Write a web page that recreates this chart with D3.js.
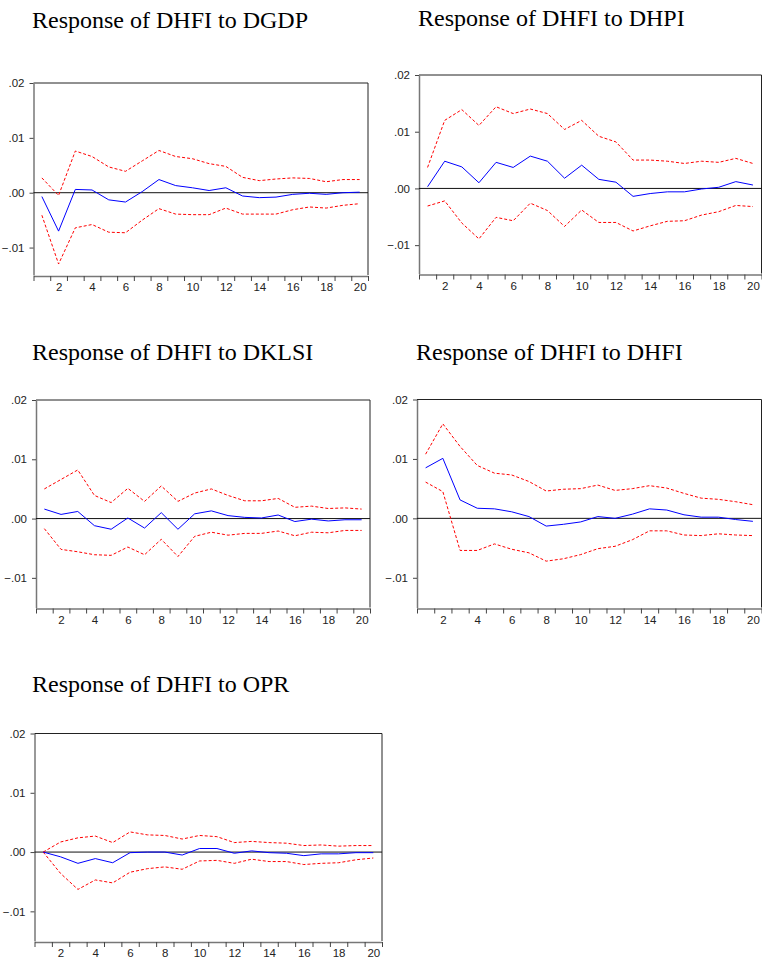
<!DOCTYPE html>
<html>
<head>
<meta charset="utf-8">
<script src="https://cdn.jsdelivr.net/npm/d3@7"></script>
<style>
	body { margin: 0; background: #fff; }
	svg { display: block; }
	.title { font-family: "Liberation Serif", "Times New Roman", serif; font-size: 24px; fill: #000; }
	.tick text { font-family: "Liberation Sans", Arial, sans-serif; font-size: 11.5px; fill: #222; }
</style>
</head>
<body>
<svg id="chart" width="762" height="962"></svg>
<script>
// periods on the horizontal axis
let periods = [1, 2, 3, 4, 5, 6, 7, 8, 9, 10, 11, 12, 13, 14, 15, 16, 17, 18, 19, 20];
let y_ticks = [-0.01, 0, 0.01, 0.02];
let x_labels = [2, 4, 6, 8, 10, 12, 14, 16, 18, 20];

// response of DHFI to DGDP
let resp_dgdp = [-0.0007, -0.0070, 0.0006, 0.0005, -0.0013, -0.0017, 0.0002, 0.0024, 0.0013, 0.0009, 0.0004, 0.0009, -0.0006, -0.0009, -0.0008, -0.0003, -0.0001, -0.0003, 0.0000, 0.0001];
let up_dgdp = [0.0027, -0.0005, 0.0076, 0.0066, 0.0047, 0.0039, 0.0058, 0.0077, 0.0066, 0.0062, 0.0053, 0.0048, 0.0028, 0.0022, 0.0025, 0.0027, 0.0026, 0.0020, 0.0024, 0.0024];
let lo_dgdp = [-0.0041, -0.0130, -0.0064, -0.0058, -0.0072, -0.0073, -0.0050, -0.0029, -0.0039, -0.0040, -0.0040, -0.0028, -0.0039, -0.0039, -0.0039, -0.0031, -0.0026, -0.0028, -0.0023, -0.0020];

// response of DHFI to DHPI
let resp_dhpi = [0.0003, 0.0048, 0.0038, 0.0010, 0.0046, 0.0037, 0.0057, 0.0048, 0.0018, 0.0041, 0.0016, 0.0011, -0.0014, -0.0009, -0.0006, -0.0006, -0.0001, 0.0002, 0.0012, 0.0006];
let up_dhpi = [0.0037, 0.0120, 0.0139, 0.0111, 0.0144, 0.0132, 0.0140, 0.0132, 0.0104, 0.0120, 0.0092, 0.0082, 0.0050, 0.0050, 0.0048, 0.0044, 0.0048, 0.0046, 0.0053, 0.0044];
let lo_dhpi = [-0.0031, -0.0022, -0.0061, -0.0089, -0.0051, -0.0057, -0.0026, -0.0039, -0.0067, -0.0038, -0.0060, -0.0060, -0.0075, -0.0066, -0.0058, -0.0057, -0.0047, -0.0041, -0.0030, -0.0032];

// response of DHFI to DKLSI
let resp_dklsi = [0.0016, 0.0007, 0.0012, -0.0012, -0.0018, 0.0001, -0.0016, 0.0010, -0.0018, 0.0008, 0.0013, 0.0005, 0.0002, 0.0001, 0.0006, -0.0005, -0.0001, -0.0004, -0.0002, -0.0002];
let up_dklsi = [0.0050, 0.0066, 0.0082, 0.0039, 0.0027, 0.0051, 0.0029, 0.0055, 0.0029, 0.0043, 0.0050, 0.0039, 0.0030, 0.0030, 0.0034, 0.0019, 0.0021, 0.0017, 0.0018, 0.0016];
let lo_dklsi = [-0.0017, -0.0052, -0.0056, -0.0061, -0.0062, -0.0048, -0.0061, -0.0035, -0.0064, -0.0030, -0.0023, -0.0028, -0.0025, -0.0025, -0.0021, -0.0029, -0.0023, -0.0024, -0.0020, -0.0020];

// response of DHFI to DHFI
let resp_dhfi = [0.0085, 0.0101, 0.0031, 0.0017, 0.0016, 0.0011, 0.0003, -0.0013, -0.0010, -0.0006, 0.0003, 0.0000, 0.0007, 0.0016, 0.0014, 0.0006, 0.0002, 0.0002, -0.0002, -0.0005];
let up_dhfi = [0.0108, 0.0159, 0.0121, 0.0089, 0.0076, 0.0073, 0.0062, 0.0046, 0.0049, 0.0050, 0.0056, 0.0047, 0.0050, 0.0055, 0.0051, 0.0042, 0.0034, 0.0032, 0.0028, 0.0023];
let lo_dhfi = [0.0061, 0.0045, -0.0054, -0.0054, -0.0043, -0.0052, -0.0058, -0.0072, -0.0068, -0.0061, -0.0051, -0.0047, -0.0036, -0.0021, -0.0021, -0.0028, -0.0029, -0.0026, -0.0028, -0.0029];

// response of DHFI to OPR
let resp_opr = [0.0000, -0.0008, -0.0019, -0.0011, -0.0018, -0.0001, 0.0000, 0.0000, -0.0005, 0.0006, 0.0006, -0.0002, 0.0002, -0.0001, -0.0002, -0.0006, -0.0003, -0.0003, -0.0001, -0.0001];
let up_opr = [0.0000, 0.0017, 0.0024, 0.0027, 0.0016, 0.0034, 0.0029, 0.0028, 0.0022, 0.0028, 0.0026, 0.0016, 0.0018, 0.0016, 0.0015, 0.0011, 0.0012, 0.0010, 0.0011, 0.0011];
let lo_opr = [0.0000, -0.0036, -0.0063, -0.0047, -0.0052, -0.0034, -0.0028, -0.0025, -0.0029, -0.0015, -0.0014, -0.0019, -0.0012, -0.0016, -0.0016, -0.0021, -0.0019, -0.0018, -0.0013, -0.0010];

// panel boxes (layout only)
let panels = [
	{title: "Response of DHFI to DGDP", tx: 32, ty: 28, left: 33.5, right: 368, top: 83, bottom: 275, resp: resp_dgdp, up: up_dgdp, lo: lo_dgdp},
	{title: "Response of DHFI to DHPI", tx: 418, ty: 26, left: 419, right: 761.5, top: 75, bottom: 273.5, resp: resp_dhpi, up: up_dhpi, lo: lo_dhpi},
	{title: "Response of DHFI to DKLSI", tx: 32, ty: 360, left: 36, right: 370, top: 400, bottom: 607.5, resp: resp_dklsi, up: up_dklsi, lo: lo_dklsi},
	{title: "Response of DHFI to DHFI", tx: 416, ty: 360, left: 417, right: 761.5, top: 399.5, bottom: 607.5, resp: resp_dhfi, up: up_dhfi, lo: lo_dhfi},
	{title: "Response of DHFI to OPR", tx: 32, ty: 692, left: 34.5, right: 382, top: 733.5, bottom: 941, resp: resp_opr, up: up_opr, lo: lo_opr}
];

let svg = d3.select("#chart");

let fmt = (d) => d3.format(".2f")(d).replace("0.", ".");

panels.forEach((p) => {
	let x = d3.scaleLinear().domain([0.5, 20.5]).range([p.left, p.right]);
	let y = d3.scaleLinear().domain([-0.015, 0.02]).range([p.bottom, p.top]);

	let g = svg.append("g");

	g.append("text")
		.attr("class", "title")
		.attr("x", p.tx)
		.attr("y", p.ty)
		.text(p.title);

	// frame: top and right dark
	g.append("path")
		.attr("d", `M${p.left},${p.top}H${p.right}V${p.bottom}`)
		.attr("fill", "none")
		.attr("stroke", "#222")
		.attr("stroke-width", 1);

	// y axis
	let yAxis = d3.axisLeft(y)
		.tickValues(y_ticks)
		.tickFormat(fmt)
		.tickSize(4)
		.tickSizeOuter(0)
		.tickPadding(5);
	let ya = g.append("g")
		.attr("transform", `translate(${p.left},0)`)
		.call(yAxis);
	ya.select(".domain").attr("stroke", "#777").attr("stroke-width", 1.5);
	ya.selectAll(".tick line").attr("stroke", "#444");
	ya.selectAll(".tick text").attr("fill", "#222");
	// top tick (.02)
	// x axis ticks at period boundaries
	let bounds = periods.map((d) => d - 0.5).concat([20.5]);
	let xAxis = d3.axisBottom(x)
		.tickValues(bounds)
		.tickFormat("")
		.tickSize(5)
		.tickSizeOuter(0);
	let xa = g.append("g")
		.attr("transform", `translate(0,${p.bottom + 1})`)
		.call(xAxis);
	xa.select(".domain").attr("stroke", "#777").attr("stroke-width", 1.5);
	xa.selectAll(".tick line").attr("stroke", "#444");

	let xLab = d3.axisBottom(x)
		.tickValues(x_labels)
		.tickFormat(d3.format("d"))
		.tickSize(0)
		.tickPadding(7);
	let xl = g.append("g")
		.attr("transform", `translate(0,${p.bottom + 1})`)
		.call(xLab);
	xl.select(".domain").remove();

	// zero line
	g.append("line")
		.attr("x1", p.left)
		.attr("x2", p.right)
		.attr("y1", y(0))
		.attr("y2", y(0))
		.attr("stroke", "#111")
		.attr("stroke-width", 1);

	let line = d3.line()
		.x((d, i) => x(periods[i]))
		.y((d) => y(d));

	g.append("path")
		.datum(p.up)
		.attr("d", line)
		.attr("fill", "none")
		.attr("stroke", "#ff0000")
		.attr("stroke-width", 1)
		.attr("stroke-dasharray", "3,2");

	g.append("path")
		.datum(p.lo)
		.attr("d", line)
		.attr("fill", "none")
		.attr("stroke", "#ff0000")
		.attr("stroke-width", 1)
		.attr("stroke-dasharray", "3,2");

	g.append("path")
		.datum(p.resp)
		.attr("d", line)
		.attr("fill", "none")
		.attr("stroke", "#0000ff")
		.attr("stroke-width", 1);
});
</script>
</body>
</html>
